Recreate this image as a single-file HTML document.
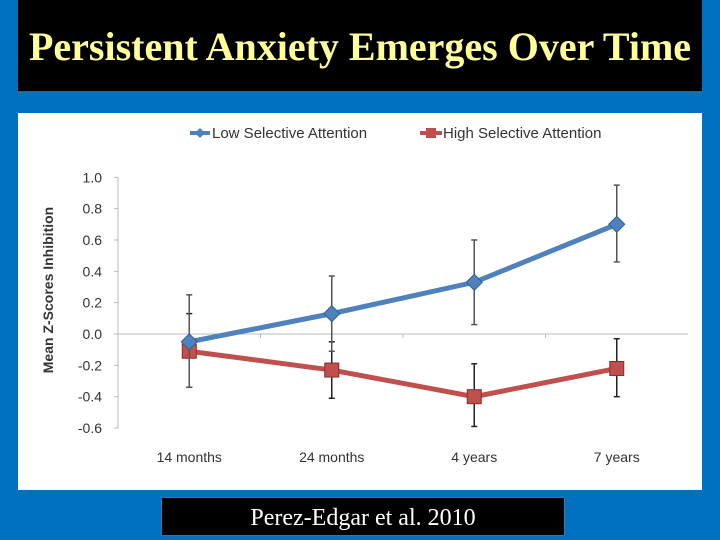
<!DOCTYPE html>
<html><head><meta charset="utf-8"><style>
body{margin:0;width:720px;height:540px;background:#0070c0;position:relative;overflow:hidden;font-family:"Liberation Sans",sans-serif}
#title{position:absolute;left:18px;top:0;width:684px;height:91px;background:#000;color:#ffff99;font-family:"Liberation Serif",serif;font-weight:bold;font-size:40px;text-align:center;line-height:94px;white-space:nowrap}
#panel{position:absolute;left:18px;top:113px;width:684px;height:377px;background:#fff}
#cap{position:absolute;left:162px;top:498px;width:402px;height:37px;background:#000;color:#fff;font-family:"Liberation Serif",serif;font-size:24px;text-align:center;line-height:40px;box-shadow:0 0 2px #888}
</style></head><body>
<div id="title">Persistent Anxiety Emerges Over Time</div>
<div id="panel"></div>
<svg id="chart" width="720" height="540" style="position:absolute;left:0;top:0"></svg>
<div id="cap">Perez-Edgar et al. 2010</div>
<script>
const categories=["14 months","24 months","4 years","7 years"];
const lowVals=[-0.05,0.13,0.33,0.70];
const lowLo=[-0.34,-0.11,0.06,0.46];
const lowHi=[0.25,0.37,0.60,0.95];
const highVals=[-0.11,-0.23,-0.40,-0.22];
const highLo=[-0.34,-0.41,-0.59,-0.40];
const highHi=[0.13,-0.05,-0.19,-0.03];
const yTicks=[1.0,0.8,0.6,0.4,0.2,0.0,-0.2,-0.4,-0.6];
const NS="http://www.w3.org/2000/svg";
const svg=document.getElementById('chart');
const x0=118,x1=688,yz=334,ppu=156.7;
const y=v=>yz-v*ppu;
const xc=i=>x0+(x1-x0)/categories.length*(i+0.5);
function mk(t,a,p){const e=document.createElementNS(NS,t);for(const k in a)e.setAttribute(k,a[k]);(p||svg).appendChild(e);return e;}
let e=mk('line',{x1:x0,x2:x0,y1:y(1.0),y2:y(-0.6),stroke:'#bbb'});


e=mk('line',{x1:x0,x2:x1,y1:yz,y2:yz,stroke:'#bbb'});


yTicks.forEach(v=>{
 mk('line',{x1:x0-4,x2:x0,y1:y(v),y2:y(v),stroke:'#bbb'});
 const t=mk('text',{x:102,y:y(v)+5,'text-anchor':'end','font-size':14,fill:'#333'});
 t.textContent=v.toFixed(1);
 
 
});
for(let i=1;i<categories.length;i++)mk('line',{x1:x0+(x1-x0)/4*i,x2:x0+(x1-x0)/4*i,y1:yz,y2:yz+4,stroke:'#bbb'});
categories.forEach((c,i)=>{
 const t=mk('text',{x:xc(i),y:462,'text-anchor':'middle','font-size':14,fill:'#333'});
 t.textContent=c;
 
 
});
let yt=mk('text',{transform:'translate(53,290) rotate(-90)','text-anchor':'middle','font-size':14,'font-weight':'bold',fill:'#333'});
yt.textContent='Mean Z-Scores Inhibition';


function series(vals,lo,hi,col,ecol,shape,name){
 vals.forEach((v,i)=>{
  const g=mk('g',{stroke:ecol,'stroke-width':1.5});
  
  
  mk('line',{x1:xc(i),x2:xc(i),y1:y(lo[i]),y2:y(hi[i])},g);
  mk('line',{x1:xc(i)-3,x2:xc(i)+3,y1:y(lo[i]),y2:y(lo[i])},g);
  mk('line',{x1:xc(i)-3,x2:xc(i)+3,y1:y(hi[i]),y2:y(hi[i])},g);
 });
 const l=mk('polyline',{points:vals.map((v,i)=>xc(i)+','+y(v)).join(' '),fill:'none',stroke:col,'stroke-width':5});
 
 
 vals.forEach((v,i)=>{
  let m;
  if(shape==='d')m=mk('polygon',{points:`${xc(i)},${y(v)-8} ${xc(i)+8},${y(v)} ${xc(i)},${y(v)+8} ${xc(i)-8},${y(v)}`,fill:col,stroke:'#2f5f99'});
  else m=mk('rect',{x:xc(i)-7,y:y(v)-7,width:14,height:14,fill:col,stroke:'#8c2a28'});
  
  
 });
}
series(highVals,highLo,highHi,'#c0504d','#222','s','high-attention');
series(lowVals,lowLo,lowHi,'#4f81bd','#555','d','low-attention');
const lg=mk('g',{});


mk('line',{x1:190,x2:210,y1:133,y2:133,stroke:'#4f81bd','stroke-width':4},lg);
mk('polygon',{points:'200,128 205,133 200,138 195,133',fill:'#4f81bd'},lg);
let t=mk('text',{x:212,y:138,'font-size':15,fill:'#333'},lg);t.textContent='Low Selective Attention';
mk('line',{x1:420,x2:442,y1:133,y2:133,stroke:'#c0504d','stroke-width':4},lg);
mk('rect',{x:426,y:128,width:10,height:10,fill:'#c0504d'},lg);
t=mk('text',{x:443,y:138,'font-size':15,fill:'#333'},lg);t.textContent='High Selective Attention';
</script>
</body></html>
